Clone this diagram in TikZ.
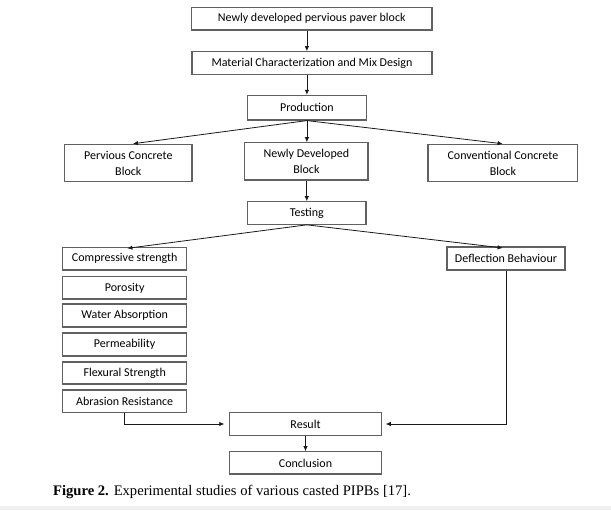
\documentclass[tikz,border=0pt]{standalone}
\usepackage{fontspec}
\setmainfont{Carlito}
\newfontfamily\capfont{Liberation Serif}
\usetikzlibrary{arrows.meta}
\begin{document}
\begin{tikzpicture}[x=1pt,y=-1pt,
  bx/.style={draw=black!62,line width=1.1pt,inner sep=0pt,align=center,
    text=black,font=\fontsize{12}{16}\selectfont},
  arr/.style={draw=black!90,line width=0.8pt,-{Latex[length=5pt,width=4.5pt]}}]
\useasboundingbox (0,0) rectangle (611,510);
\fill[black!6] (0,506) rectangle (611,510);
% nodes
\node[bx,minimum width=240.5pt,minimum height=22.7pt] (b1) at (311.7,18.7) {Newly developed pervious paver block};
\node[bx,minimum width=240pt,minimum height=22.6pt] (b2) at (312,63) {Material Characterization and Mix Design};
\node[bx,minimum width=118.6pt,minimum height=24.7pt] (prod) at (306.9,107.7) {Production};
\node[bx,minimum width=127.4pt,minimum height=37.4pt] (perv) at (128.3,163) {Pervious Concrete\\Block};
\node[bx,minimum width=123.2pt,minimum height=37.3pt] (newb) at (306.4,161.4) {Newly Developed\\Block};
\node[bx,minimum width=149.8pt,minimum height=37.4pt] (conv) at (502.9,163) {Conventional Concrete\\Block};
\node[bx,minimum width=118.4pt,minimum height=22.6pt] (test) at (306.8,213) {Testing};
\node[bx,minimum width=124.3pt,minimum height=22.7pt] (comp) at (124.7,258.7) {Compressive strength};
\node[bx,minimum width=118pt,minimum height=23pt] (defl) at (506,258.5) {Deflection Behaviour};
\node[bx,minimum width=124.3pt,minimum height=22.3pt] (poro) at (124.7,287.9) {Porosity};
\node[bx,minimum width=124.3pt,minimum height=23pt] (water) at (124.7,315.5) {Water Absorption};
\node[bx,minimum width=124.3pt,minimum height=23pt] (perm) at (124.7,344.5) {Permeability};
\node[bx,minimum width=124.3pt,minimum height=22pt] (flex) at (124.7,373) {Flexural Strength};
\node[bx,minimum width=124.3pt,minimum height=22.7pt] (abra) at (124.7,401.4) {Abrasion Resistance};
\node[bx,minimum width=152.4pt,minimum height=22.6pt] (res) at (305.5,424) {Result};
\node[bx,minimum width=152.4pt,minimum height=22.3pt] (conc) at (305.5,462.9) {Conclusion};
% caption
\node[anchor=base west,inner sep=0pt,font=\capfont\fontsize{14.6}{17}\selectfont] (cap) at (53,496) {\textbf{Figure 2.} Experimental studies of various casted PIPBs [17].};
% connectors
\draw[arr] (b1.south -| prod.north) -- (b2.north -| prod.north);
\draw[arr] (b2.south -| prod.north) -- (prod.north);
\draw[arr] (prod.south) -- ([xshift=4.7pt]perv.north);
\draw[arr] (prod.south) -- (prod.south |- newb.north);
\draw[arr] (prod.south) -- ([xshift=-0.3pt]conv.north);
\draw[arr] (newb.south -| test.north) -- (test.north);
\draw[arr] (test.south) -- ([xshift=2.7pt,yshift=-1.5pt]comp.north);
\draw[arr] (test.south) -- ([xshift=-3.4pt,yshift=-1.5pt]defl.north);
\draw[arr,shorten >=4.5pt] (abra.south) |- (res.west);
\draw[arr,shorten >=3.5pt] (defl.south) |- (res.east);
\draw[arr] (res.south) -- (conc.north);
\end{tikzpicture}
\end{document}
